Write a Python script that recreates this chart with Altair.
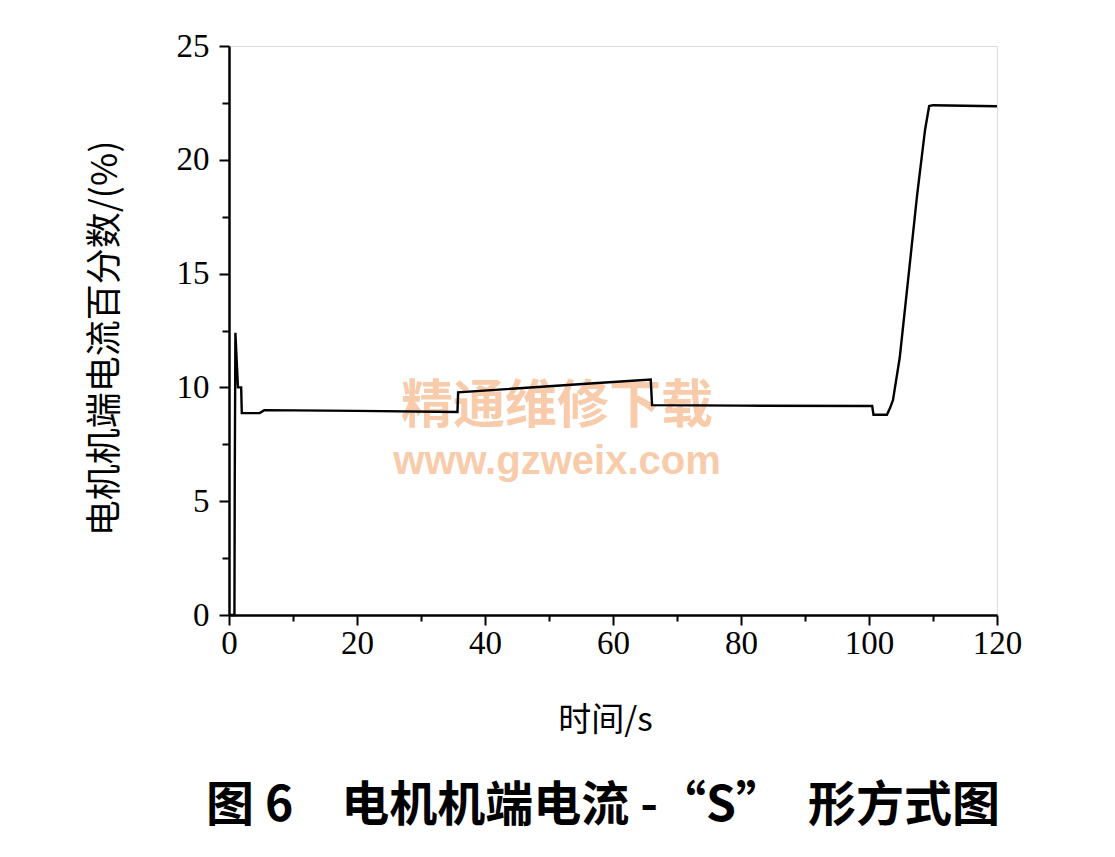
import altair as alt
import pandas as pd

# Time (s) and motor terminal current (% of rated)
time_s = [0, 0.85, 0.9, 1.0, 1.4, 1.9, 2.0, 4.8, 5.5, 20, 35.7, 35.8, 50, 57,
          65.9, 66.1, 80, 100.5, 100.7, 102.8, 103.3, 103.75, 104.8, 106.1,
          107.5, 108.75, 109.4, 110, 120]
current_pct = [0, 0, 6.0, 12.4, 10.0, 10.0, 8.87, 8.87, 9.0, 8.97, 8.92, 9.78,
               10.05, 10.18, 10.35, 9.22, 9.2, 9.18, 8.8, 8.8, 9.1, 9.45, 11.3,
               14.7, 18.4, 21.3, 22.36, 22.4, 22.35]

x_major_ticks = [0, 20, 40, 60, 80, 100, 120]
x_minor_ticks = [10, 30, 50, 70, 90, 110]
y_major_ticks = [0, 5, 10, 15, 20, 25]
y_minor_ticks = [2.5, 7.5, 12.5, 17.5, 22.5]

x_title = "时间/s"
y_title = "电机机端电流百分数/(%)"
caption = "图 6　电机机端电流 -“S”　形方式图"
watermark_cn = "精通维修下载"
watermark_url = "www.gzweix.com"

df = pd.DataFrame({"t": time_s, "v": current_pct})

W, H = 768, 569
x_scale = alt.Scale(domain=[0, 120], nice=False, zero=False)
y_scale = alt.Scale(domain=[0, 25], nice=False)

label_font = "Liberation Serif"
cjk_font = "Noto Sans CJK SC"

main = alt.Chart(df).mark_line(color="black", strokeWidth=2.4).encode(
    x=alt.X("t:Q", scale=x_scale, axis=alt.Axis(
        orient="bottom", values=x_major_ticks, format="d", tickSize=10,
        tickWidth=2, tickColor="black", domainColor="black", domainWidth=2.5,
        labelFont=label_font, labelFontSize=33, labelColor="black",
        labelPadding=2, grid=False, labelFlush=False, labelOverlap=False,
        title=x_title, titleFont=cjk_font, titleFontSize=33,
        titleFontWeight="normal", titleColor="black",
        titleX=376, titleY=105, titleBaseline="middle", titleAlign="center")),
    y=alt.Y("v:Q", scale=y_scale, axis=alt.Axis(
        orient="left", values=y_major_ticks, format="d", tickSize=10,
        tickWidth=2, tickColor="black", domainColor="black", domainWidth=2.5,
        labelFont=label_font, labelFontSize=33, labelColor="black",
        labelPadding=10, grid=False, labelFlush=False, labelOverlap=False,
        title=y_title, titleFont=cjk_font, titleFontSize=36,
        titleFontWeight="normal", titleColor="black", titleAngle=270,
        titleX=-124, titleY=292, titleBaseline="middle", titleAlign="center")),
)

minor = alt.Chart(df).mark_line(opacity=0).encode(
    x=alt.X("t:Q", scale=x_scale, axis=alt.Axis(
        orient="bottom", values=x_minor_ticks, tickSize=6, tickWidth=2,
        tickColor="black", labels=False, domain=False, grid=False, title=None)),
    y=alt.Y("v:Q", scale=y_scale, axis=alt.Axis(
        orient="left", values=y_minor_ticks, tickSize=7, tickWidth=2,
        tickColor="black", labels=False, domain=False, grid=False, title=None)),
)

one = pd.DataFrame({"k": [0]})
wm1 = alt.Chart(one).mark_text(
    font=cjk_font, fontSize=52, fontWeight="bold", color="#F4A972",
    opacity=0.6, align="center", baseline="middle",
).encode(x=alt.value(328), y=alt.value(361), text=alt.value(watermark_cn))
wm2 = alt.Chart(one).mark_text(
    font="Liberation Sans", fontSize=40, fontWeight="bold", color="#F4A972",
    opacity=0.6, align="center", baseline="middle",
).encode(x=alt.value(328), y=alt.value(416), text=alt.value(watermark_url))

chart = alt.layer(wm1, wm2, minor, main).resolve_axis(
    x="independent", y="independent"
).properties(
    width=W, height=H,
    autosize=alt.AutoSizeParams(type="none"),
    padding={"left": 221, "top": 38, "right": 100, "bottom": 230},
    title=alt.Title(text=caption, orient="bottom", anchor="middle",
                    font=cjk_font, fontSize=48, fontWeight="bold",
                    color="black", offset=46, dx=-10),
).configure_view(stroke=None).configure(background="white")

chart.save("out.html", embed_options={"renderer": "svg", "actions": False})
